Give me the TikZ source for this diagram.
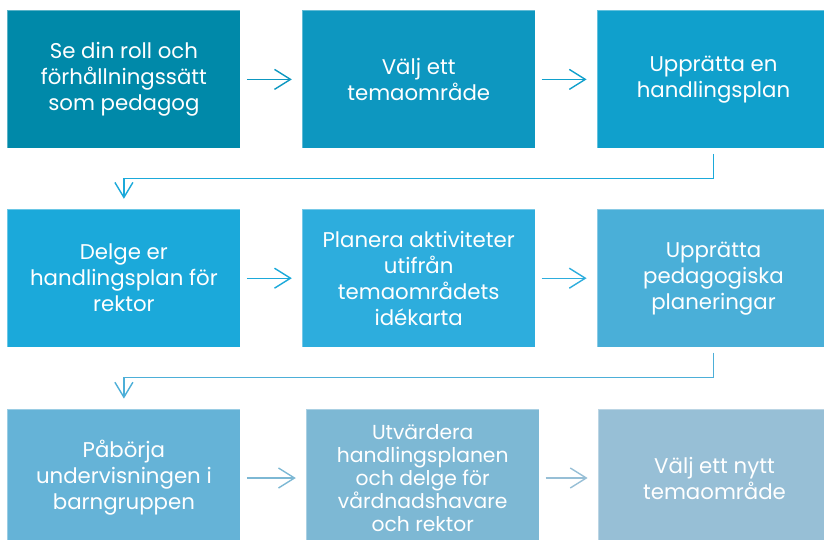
\documentclass[tikz,border=0pt]{standalone}
\usepackage{fontspec}
\setmainfont{Poppins}
\definecolor{stepa}{HTML}{0089A9}
\definecolor{stepb}{HTML}{0D97C0}
\definecolor{stepc}{HTML}{10A0CC}
\definecolor{stepd}{HTML}{1BA9DA}
\definecolor{stepe}{HTML}{2DADDD}
\definecolor{stepf}{HTML}{4AAFD8}
\definecolor{stepg}{HTML}{65B3D7}
\definecolor{steph}{HTML}{7DB8D4}
\definecolor{stepi}{HTML}{97BFD6}
\usetikzlibrary{arrows.meta, positioning}
\tikzset{
	stepbox/.style={rectangle, draw=white, draw opacity=0.35, line width=0.8pt, inner sep=0pt, align=center, minimum width=233pt, minimum height=138pt, text=white, font=\fontsize{21.3}{26}\selectfont},
	flowarrow/.style={-{Straight Barb[length=16pt, width=20pt]}, line width=1.4pt},
	turnarrow/.style={-{Straight Barb[length=15pt, width=18pt]}, line width=1.4pt},
}
\begin{document}
\begin{tikzpicture}[x=1pt, y=1pt, node distance=60pt and 61pt]
		\useasboundingbox (0,0) rectangle (824,-540);
		\clip (0,0) rectangle (824,-540);
		\node[stepbox, fill=stepa, anchor=north west] (roll) at (7,-10) {Se din roll och\\förhållningssätt\\som pedagog};
		\node[stepbox, fill=stepb, right=of roll] (tema) {Välj ett\\temaområde};
		\node[stepbox, fill=stepc, right=of tema] (plan) {Upprätta en\\handlingsplan};
		\node[stepbox, fill=stepd, below=of roll] (delge) {Delge er\\handlingsplan för\\rektor};
		\node[stepbox, fill=stepe, right=of delge] (aktiv) {Planera aktiviteter\\utifrån\\temaområdets\\idékarta};
		\node[stepbox, fill=stepf, right=of aktiv] (pedplan) {Upprätta\\pedagogiska\\planeringar};
		\node[stepbox, fill=stepg, below=61pt of delge] (borja) {Påbörja\\undervisningen i\\barngruppen};
		\node[stepbox, fill=steph, right=65pt of borja, font=\fontsize{20.3}{23}\selectfont] (utv) {Utvärdera\\handlingsplanen\\och delge för\\vårdnadshavare\\och rektor};
		\node[stepbox, fill=stepi, right=58pt of utv] (nytt) {Välj ett nytt\\temaområde};
		\foreach \a/\b/\c in {roll/tema/stepb, tema/plan/stepc, delge/aktiv/stepd, aktiv/pedplan/stepe, borja/utv/steph, utv/nytt/stepi}
			{\draw[flowarrow, draw=\c] ([xshift=6pt]\a.east) -- ([xshift=-10pt]\b.west);}
		\draw[turnarrow, draw=stepd] ([yshift=-5pt]plan.south) -- ++(0,-25) -| ([yshift=10pt]delge.north);
		\draw[turnarrow, draw=stepf!90!stepg] ([yshift=-5pt]pedplan.south) -- ++(0,-25) -| ([yshift=10pt]borja.north);
	\end{tikzpicture}
\end{document}
